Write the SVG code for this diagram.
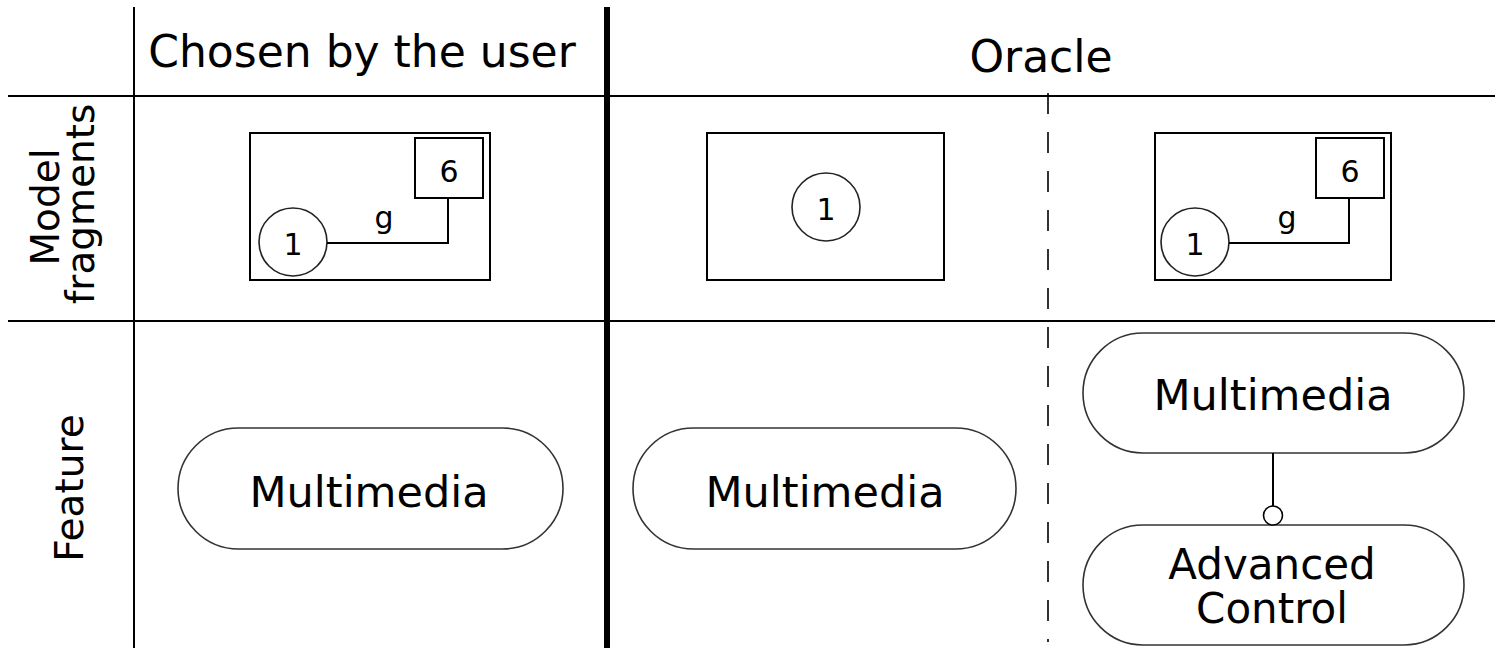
<svg xmlns="http://www.w3.org/2000/svg" width="1495" height="648" viewBox="0 0 1495 648">
<style>
text{font-family:"DejaVu Sans","Verdana",sans-serif;fill:#000}
.hdr{font-size:44px;text-anchor:middle}
.row{font-size:39px;text-anchor:middle}
.lbl{font-size:30px;text-anchor:middle}
.feat{font-size:43px;text-anchor:middle}
.feat2{font-size:42px;text-anchor:middle}
.grid{stroke:#000;stroke-width:2;fill:none}
.box{stroke:#000;stroke-width:2;fill:#fff}
.node{stroke:#222;stroke-width:1.6;fill:#fff}
.pill{stroke:#333;stroke-width:1.6;fill:#fff}
.edge{stroke:#000;stroke-width:2;fill:none}
</style>
<rect width="1495" height="648" fill="#fff"/>
<g id="grid">
<line class="grid" x1="134" y1="7" x2="134" y2="648"/>
<line class="grid" x1="8" y1="96" x2="1495" y2="96"/>
<line class="grid" x1="8" y1="321" x2="1495" y2="321"/>
<line x1="607" y1="7" x2="607" y2="648" stroke="#000" stroke-width="6"/>
<line x1="1048" y1="93" x2="1048" y2="642" stroke="#000" stroke-width="1.6" stroke-dasharray="21 18"/>
</g>
<g id="headers">
<text class="hdr" x="362" y="67">Chosen by the user</text>
<text class="hdr" x="1041" y="72">Oracle</text>
<text class="row" transform="translate(59,207) rotate(-90)">Model</text>
<text class="row" transform="translate(94,204) rotate(-90)">fragments</text>
<text class="row" transform="translate(83,488) rotate(-90)">Feature</text>
</g>
<g id="fragment-user">
<rect class="box" x="250" y="133" width="240" height="147"/>
<rect class="box" x="415" y="138" width="68" height="60"/>
<text class="lbl" x="449" y="182">6</text>
<circle class="node" cx="293" cy="242" r="34"/>
<text class="lbl" x="293" y="255">1</text>
</g>
<g id="fragment-oracle1">
<rect class="box" x="707" y="133" width="237" height="147"/>
<circle class="node" cx="826" cy="207" r="34"/>
<text class="lbl" x="826" y="220">1</text>
</g>
<g id="fragment-oracle2">
<rect class="box" x="1155" y="133" width="236" height="147"/>
<rect class="box" x="1316" y="138" width="68" height="60"/>
<text class="lbl" x="1350" y="182">6</text>
<circle class="node" cx="1195" cy="242" r="34"/>
<text class="lbl" x="1195" y="255">1</text>
</g>
<g id="feature-user">
<rect class="pill" x="178" y="428" width="385" height="121" rx="60.5" ry="60.5"/>
<text class="feat" x="369" y="507">Multimedia</text>
</g>
<g id="feature-oracle1">
<rect class="pill" x="633" y="428" width="383" height="121" rx="60.5" ry="60.5"/>
<text class="feat" x="825" y="507">Multimedia</text>
</g>
<g id="feature-oracle2-multimedia">
<rect class="pill" x="1083" y="333" width="381" height="120" rx="60" ry="60"/>
<text class="feat" x="1273" y="410">Multimedia</text>
</g>
<g id="feature-oracle2-advanced">
<rect class="pill" x="1083" y="525" width="381" height="120" rx="60" ry="60"/>
<text class="feat2" x="1272" y="579">Advanced</text>
<text class="feat2" x="1272" y="623">Control</text>
</g>
<g id="connectors">
<polyline class="edge" points="327,243 448,243 448,198"/>
<text class="lbl" x="384" y="228">g</text>
<polyline class="edge" points="1229,243 1349,243 1349,198"/>
<text class="lbl" x="1287" y="228">g</text>
<line class="edge" x1="1273" y1="453" x2="1273" y2="506"/>
<circle cx="1273" cy="515.5" r="9.5" fill="#fff" stroke="#000" stroke-width="1.6"/>
</g>
</svg>
